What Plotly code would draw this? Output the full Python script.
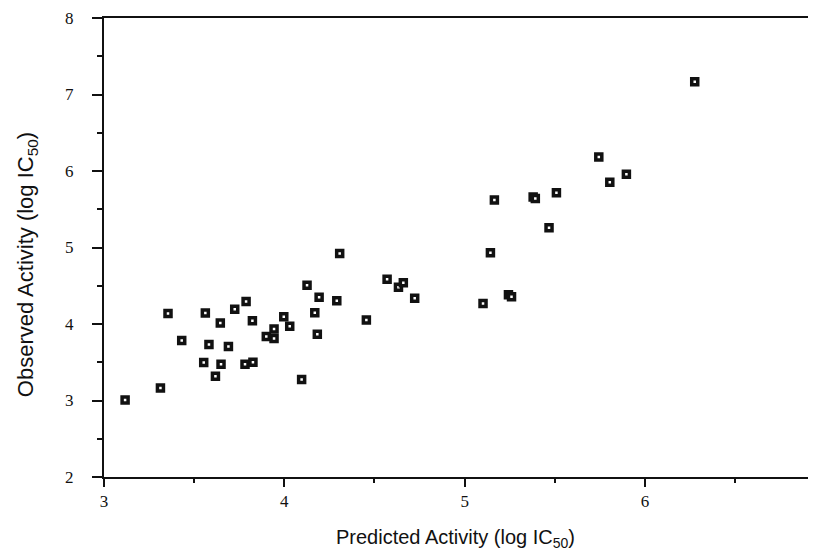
import plotly.graph_objects as go

# Data
predicted = [3.117, 3.313, 3.355, 3.431, 3.562, 3.553, 3.582, 3.645, 3.649, 3.618,
             3.690, 3.725, 3.788, 3.823, 3.782, 3.826, 3.900, 3.943, 3.943, 3.997,
             4.030, 4.096, 4.126, 4.193, 4.169, 4.183, 4.291, 4.307, 4.455, 4.570,
             4.633, 4.660, 4.723, 5.102, 5.143, 5.243, 5.260, 5.165, 5.380, 5.392,
             5.509, 5.468, 5.744, 5.805, 5.897, 6.276]
observed = [3.005, 3.162, 4.138, 3.783, 4.143, 3.496, 3.731, 4.012, 3.474, 3.318,
            3.705, 4.194, 4.294, 4.043, 3.474, 3.500, 3.835, 3.934, 3.809, 4.095,
            3.969, 3.275, 4.507, 4.350, 4.147, 3.865, 4.303, 4.923, 4.051, 4.585,
            4.481, 4.538, 4.337, 4.268, 4.932, 4.382, 4.356, 5.622, 5.660, 5.640,
            5.717, 5.258, 6.182, 5.852, 5.957, 7.167]

x_ticks = [3, 4, 5, 6]
y_ticks = [2, 3, 4, 5, 6, 7, 8]
x_title = "Predicted Activity (log IC<sub>50</sub>)"
y_title = "Observed Activity (log IC<sub>50</sub>)"

fig = go.Figure()
fig.add_trace(go.Scatter(
    x=predicted, y=observed, mode="markers",
    marker=dict(symbol="square", size=6, color="white",
                line=dict(color="#111111", width=3.5)),
    showlegend=False, cliponaxis=False,
))

tick_font = dict(family="Liberation Serif", size=17, color="#111111")

fig.update_layout(
    width=808, height=543,
    margin=dict(l=96, r=1, t=8, b=74),
    paper_bgcolor="white", plot_bgcolor="white",
    xaxis=dict(range=[3, 6.943], tickvals=x_ticks, ticks="outside", ticklen=8,
               tickwidth=2, tickcolor="#111111", showline=True, linewidth=2,
               linecolor="#111111", mirror=True, showgrid=False, zeroline=False,
               tickfont=tick_font, ticklabelstandoff=0, ticklabeloverflow="allow",
               minor=dict(dtick=0.5, ticks="outside", ticklen=4, tickwidth=2,
                          tickcolor="#111111", showgrid=False)),
    yaxis=dict(range=[2, 8], tickvals=y_ticks, ticks="outside", ticklen=10,
               tickwidth=2, tickcolor="#111111", showline=True, linewidth=2,
               linecolor="#111111", mirror=False, showgrid=False, zeroline=False,
               tickfont=tick_font, ticklabelstandoff=15, ticklabeloverflow="allow",
               minor=dict(dtick=0.5, ticks="outside", ticklen=5, tickwidth=2,
                          tickcolor="#111111", showgrid=False)),
    annotations=[
        dict(text=x_title, xref="paper", yref="paper", x=0.494, y=-0.135,
             xanchor="center", yanchor="middle", showarrow=False,
             font=dict(family="Liberation Sans", size=20, color="#111111")),
        dict(text=y_title, xref="paper", yref="paper", x=-0.108, y=0.462,
             xanchor="center", yanchor="middle", textangle=-90, showarrow=False,
             font=dict(family="Liberation Sans", size=22, color="#111111")),
    ],
    shapes=[dict(type="line", xref="paper", yref="paper", x0=1, x1=1, y0=0, y1=1,
                 line=dict(color="#999999", width=1.5))],
)

fig.write_html("out.html")
